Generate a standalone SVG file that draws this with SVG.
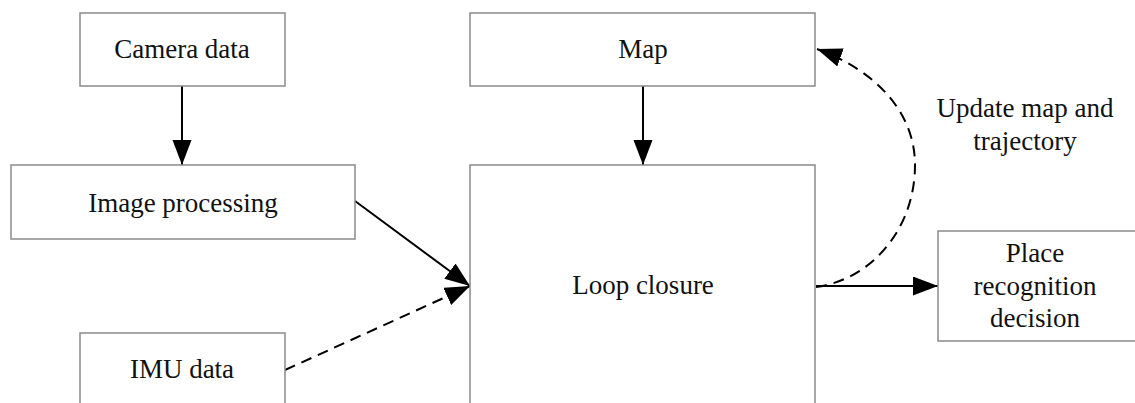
<svg xmlns="http://www.w3.org/2000/svg" width="1135" height="403" viewBox="0 0 1135 403">
<style>
.box{fill:#fff;stroke:#8a8a8a;stroke-width:1.5}
.lbl{font-family:"Liberation Serif","Times New Roman",serif;font-size:27px;fill:#111;text-anchor:middle}
.edge{fill:none;stroke:#000;stroke-width:2}
.dash{stroke-dasharray:11 7}
</style>
<defs>
<marker id="ah" markerUnits="userSpaceOnUse" markerWidth="26" markerHeight="20" refX="25" refY="9.5" orient="auto" viewBox="0 0 26 20">
<path d="M0,0 L25,9.5 L0,19 z" fill="#000"/>
</marker>
</defs>
<rect width="1135" height="403" fill="#fff"/>
<g id="connectors">
<line class="edge" x1="182" y1="86" x2="182" y2="165" marker-end="url(#ah)"/>
<line class="edge" x1="643" y1="86" x2="643" y2="165" marker-end="url(#ah)"/>
<line class="edge" x1="355" y1="201" x2="470" y2="286" marker-end="url(#ah)"/>
<line class="edge dash" x1="285" y1="370" x2="470" y2="286" marker-end="url(#ah)"/>
<line class="edge" x1="816" y1="286" x2="938" y2="286" marker-end="url(#ah)"/>
<path class="edge dash" d="M816,287 C870,280 915,230 915,165 C915,112 875,70 817,49" marker-end="url(#ah)"/>
</g>
<g id="camera">
<rect class="box" x="80" y="13" width="205" height="73"/>
<text class="lbl" x="182" y="58">Camera data</text>
</g>
<g id="image-processing">
<rect class="box" x="11" y="165" width="344" height="74"/>
<text class="lbl" x="183" y="212">Image processing</text>
</g>
<g id="imu">
<rect class="box" x="80" y="333" width="205" height="80"/>
<text class="lbl" x="182" y="378">IMU data</text>
</g>
<g id="map">
<rect class="box" x="470" y="13" width="345" height="73"/>
<text class="lbl" x="643" y="58">Map</text>
</g>
<g id="loop-closure">
<rect class="box" x="470" y="165" width="345" height="250"/>
<text class="lbl" x="643" y="294">Loop closure</text>
</g>
<g id="place-recognition">
<rect class="box" x="938" y="231" width="205" height="110"/>
<text class="lbl" x="1035" y="262">Place</text>
<text class="lbl" x="1035" y="295">recognition</text>
<text class="lbl" x="1035" y="327">decision</text>
</g>
<g id="update-label">
<text class="lbl" x="1025" y="117">Update map and</text>
<text class="lbl" x="1025" y="150">trajectory</text>
</g>
</svg>
